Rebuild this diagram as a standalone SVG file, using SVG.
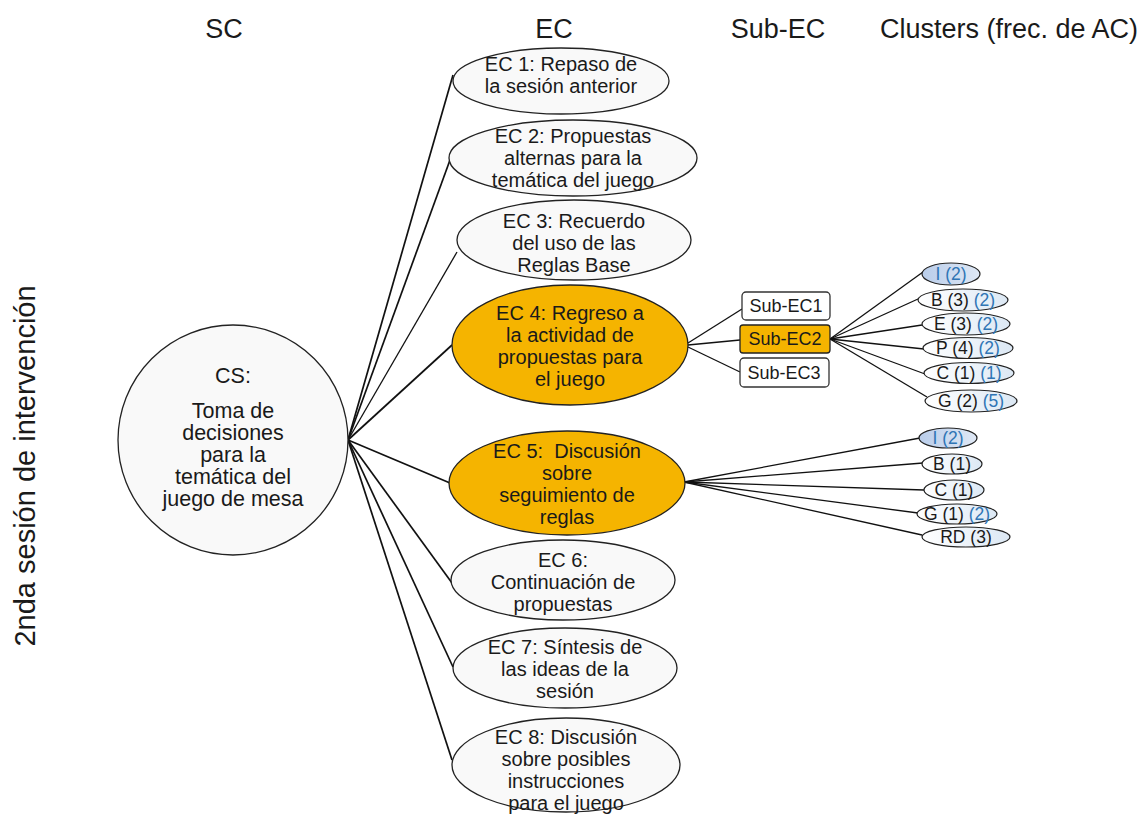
<svg xmlns="http://www.w3.org/2000/svg" width="1146" height="816" viewBox="0 0 1146 816">
<defs>
<linearGradient id="cg" x1="0" y1="0" x2="1" y2="0">
<stop offset="0" stop-color="#ffffff"/>
<stop offset="1" stop-color="#dce8f4"/>
</linearGradient>
<linearGradient id="bg" x1="0" y1="0" x2="1" y2="0">
<stop offset="0" stop-color="#b9cdea"/>
<stop offset="1" stop-color="#dfe8f5"/>
</linearGradient>
</defs>
<style>
text{font-family:"Liberation Sans",Arial,sans-serif;fill:#1a1a1a;text-anchor:middle}
.hdr{font-size:27px}
.side{font-size:29px}
.cs{font-size:21.5px}
.ec{font-size:20px}
.sub{font-size:18px}
.cl{font-size:17.5px}
.bl{fill:#2f75b5}
.ell{fill:#f9f9f9;stroke:#222;stroke-width:1.3}
.org{fill:#f5b400;stroke:#222;stroke-width:1.3}
.box{fill:#ffffff;stroke:#333;stroke-width:1.3}
.cle{fill:url(#cg);stroke:#222;stroke-width:1.2}
.cli{fill:url(#bg);stroke:#222;stroke-width:1.2}
.con line{stroke:#111;stroke-width:1.7}
.con .t{stroke-width:1.3}
</style>
<rect width="1146" height="816" fill="#ffffff"/>

<g id="headers">
<text class="hdr" x="224" y="38">SC</text>
<text class="hdr" x="554" y="38">EC</text>
<text class="hdr" x="778" y="38">Sub-EC</text>
<text class="hdr" x="1009" y="38">Clusters (frec. de AC)</text>
<text class="side" transform="translate(35,466) rotate(-90)">2nda sesión de intervención</text>
</g>

<g id="connectors" class="con">
<line x1="348" y1="440" x2="453" y2="75"/>
<line x1="348" y1="440" x2="450" y2="160"/>
<line class="t" x1="348" y1="440" x2="457" y2="252"/>
<line x1="348" y1="440" x2="452" y2="345"/>
<line x1="348" y1="440" x2="450" y2="483"/>
<line x1="348" y1="440" x2="452" y2="583"/>
<line x1="348" y1="440" x2="453" y2="667"/>
<line x1="348" y1="440" x2="452" y2="760"/>
<line class="t" x1="688" y1="343" x2="742" y2="309"/>
<line class="t" x1="688" y1="345" x2="740" y2="340"/>
<line class="t" x1="688" y1="347" x2="740" y2="372"/>
<line class="t" x1="830" y1="339" x2="923" y2="272"/>
<line class="t" x1="830" y1="339" x2="918" y2="299"/>
<line class="t" x1="830" y1="339" x2="922" y2="325"/>
<line class="t" x1="830" y1="339" x2="924" y2="349"/>
<line class="t" x1="830" y1="339" x2="925" y2="374"/>
<line class="t" x1="830" y1="339" x2="927" y2="397"/>
<line class="t" x1="684" y1="482" x2="920" y2="438"/>
<line class="t" x1="684" y1="482" x2="923" y2="463"/>
<line class="t" x1="684" y1="482" x2="924" y2="490"/>
<line class="t" x1="684" y1="482" x2="918" y2="513"/>
<line class="t" x1="684" y1="482" x2="922" y2="535"/>
</g>

<g id="cs">
<circle cx="233" cy="440" r="115" class="ell"/>
<text class="cs" x="233" y="383">CS:</text>
<text class="cs" x="233" y="418">Toma de</text>
<text class="cs" x="233" y="440">decisiones</text>
<text class="cs" x="233" y="462">para la</text>
<text class="cs" x="233" y="484">temática del</text>
<text class="cs" x="233" y="506">juego de mesa</text>
</g>

<g id="ec1">
<ellipse cx="561" cy="81" rx="108" ry="33" class="ell"/>
<text class="ec" x="561" y="71">EC 1: Repaso de</text>
<text class="ec" x="561" y="93">la sesión anterior</text>
</g>
<g id="ec2">
<ellipse cx="573" cy="158" rx="124" ry="38" class="ell"/>
<text class="ec" x="573" y="143">EC 2: Propuestas</text>
<text class="ec" x="573" y="165">alternas para la</text>
<text class="ec" x="573" y="187">temática del juego</text>
</g>
<g id="ec3">
<ellipse cx="574" cy="240" rx="117" ry="40" class="ell"/>
<text class="ec" x="574" y="228">EC 3: Recuerdo</text>
<text class="ec" x="574" y="250">del uso de las</text>
<text class="ec" x="574" y="272">Reglas Base</text>
</g>
<g id="ec4">
<ellipse cx="570" cy="345" rx="118" ry="60" class="org"/>
<text class="ec" x="570" y="320">EC 4: Regreso a</text>
<text class="ec" x="570" y="342">la actividad de</text>
<text class="ec" x="570" y="364">propuestas para</text>
<text class="ec" x="570" y="386">el juego</text>
</g>
<g id="ec5">
<ellipse cx="567" cy="483" rx="118" ry="52" class="org"/>
<text class="ec" x="567" y="458" xml:space="preserve">EC 5:  Discusión</text>
<text class="ec" x="567" y="480">sobre</text>
<text class="ec" x="567" y="502">seguimiento de</text>
<text class="ec" x="567" y="524">reglas</text>
</g>
<g id="ec6">
<ellipse cx="563" cy="580" rx="112" ry="40" class="ell"/>
<text class="ec" x="563" y="567">EC 6:</text>
<text class="ec" x="563" y="589">Continuación de</text>
<text class="ec" x="563" y="611">propuestas</text>
</g>
<g id="ec7">
<ellipse cx="565" cy="668" rx="112" ry="40" class="ell"/>
<text class="ec" x="565" y="654">EC 7: Síntesis de</text>
<text class="ec" x="565" y="676">las ideas de la</text>
<text class="ec" x="565" y="698">sesión</text>
</g>
<g id="ec8">
<ellipse cx="566" cy="765" rx="114" ry="47" class="ell"/>
<text class="ec" x="566" y="744">EC 8: Discusión</text>
<text class="ec" x="566" y="766">sobre posibles</text>
<text class="ec" x="566" y="788">instrucciones</text>
<text class="ec" x="566" y="810">para el juego</text>
</g>

<g id="subec1">
<rect x="742" y="292" width="88" height="28" rx="4" class="box"/>
<text class="sub" x="786" y="312">Sub-EC1</text>
</g>
<g id="subec2">
<rect x="740" y="325" width="90" height="28" rx="3" class="org"/>
<text class="sub" x="785" y="345">Sub-EC2</text>
</g>
<g id="subec3">
<rect x="740" y="358" width="89" height="29" rx="4" class="box"/>
<text class="sub" x="784" y="379">Sub-EC3</text>
</g>

<g id="c4-i">
<ellipse cx="951" cy="274" rx="29" ry="11" class="cli"/>
<text class="cl bl" x="951" y="280">I (2)</text>
</g>
<g id="c4-b">
<ellipse cx="963" cy="300" rx="45" ry="11" class="cle"/>
<text class="cl" x="963" y="306">B (3) <tspan class="bl">(2)</tspan></text>
</g>
<g id="c4-e">
<ellipse cx="966" cy="324" rx="44" ry="11" class="cle"/>
<text class="cl" x="966" y="330">E (3) <tspan class="bl">(2)</tspan></text>
</g>
<g id="c4-p">
<ellipse cx="968" cy="348" rx="45" ry="10.5" class="cle"/>
<text class="cl" x="968" y="354">P (4) <tspan class="bl">(2)</tspan></text>
</g>
<g id="c4-c">
<ellipse cx="969" cy="373" rx="45" ry="10.5" class="cle"/>
<text class="cl" x="969" y="379">C (1) <tspan class="bl">(1)</tspan></text>
</g>
<g id="c4-g">
<ellipse cx="971" cy="401" rx="46" ry="11" class="cle"/>
<text class="cl" x="971" y="407">G (2) <tspan class="bl">(5)</tspan></text>
</g>

<g id="c5-i">
<ellipse cx="948" cy="438" rx="29" ry="10" class="cli"/>
<text class="cl bl" x="948" y="444">I (2)</text>
</g>
<g id="c5-b">
<ellipse cx="952" cy="464" rx="30" ry="10" class="cle"/>
<text class="cl" x="952" y="470">B (1)</text>
</g>
<g id="c5-c">
<ellipse cx="954" cy="490" rx="30" ry="10" class="cle"/>
<text class="cl" x="954" y="496">C (1)</text>
</g>
<g id="c5-g">
<ellipse cx="957" cy="514" rx="40" ry="10" class="cle"/>
<text class="cl" x="957" y="520">G (1) <tspan class="bl">(2)</tspan></text>
</g>
<g id="c5-rd">
<ellipse cx="966" cy="537" rx="44" ry="10" class="cle"/>
<text class="cl" x="966" y="543">RD (3)</text>
</g>
</svg>
